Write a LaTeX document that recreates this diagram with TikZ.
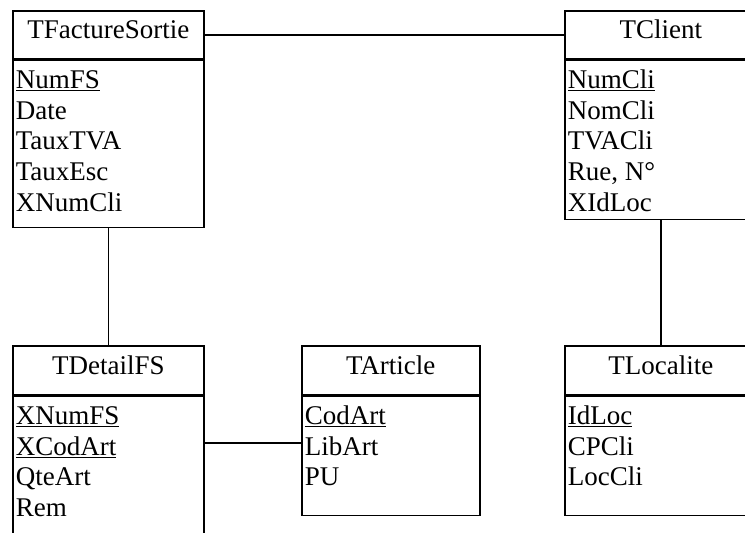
\documentclass[tikz,border=0pt]{standalone}
\usepackage{fontspec}
\setmainfont{Liberation Serif}
% primary-key field: text with a thick rule underneath
\newcommand\pk[1]{\leavevmode\setbox0\hbox{#1}\rlap{\rule[-3pt]{\wd0}{1.6pt}}\box0}
% field list of a table body: #1 height, #2 width, #3 lines separated by \\
\newcommand\fields[3]{\parbox[t][#1][t]{#2}{\fontsize{27}{30.7}\selectfont
  \raggedright\leftskip=3pt\rule{0pt}{28pt}#3}}
\begin{document}
\begin{tikzpicture}[x=1pt,y=-1pt,
  tbl/.style={draw, line width=1.6pt, inner sep=0pt,
    font=\fontsize{27}{30.7}\selectfont},
  title/.style={tbl, anchor=north west, text height=18pt, text depth=10pt},
  body/.style={tbl, anchor=north},
  link/.style={line width=1.5pt}]
\useasboundingbox[fill=white] (0,0) rectangle (745,533);

% TFactureSortie
\node[title, minimum width=191pt, minimum height=48pt] (fs) at (12,10) {TFactureSortie};
\node[body] (fsb) at (fs.south)
  {\fields{167pt}{191pt}{\pk{NumFS}\\Date\\TauxTVA\\TauxEsc\\XNumCli}};

% TClient
\node[title, minimum width=192pt, minimum height=48pt] (cl) at (564,10) {TClient};
\node[body] (clb) at (cl.south)
  {\fields{159pt}{192pt}{\pk{NumCli}\\NomCli\\TVACli\\Rue, N°\\XIdLoc}};

% TDetailFS
\node[title, minimum width=191pt, minimum height=49pt] (df) at (12,345) {TDetailFS};
\node[body] (dfb) at (df.south)
  {\fields{200pt}{191pt}{\pk{XNumFS}\\\pk{XCodArt}\\QteArt\\Rem}};

% TArticle
\node[title, minimum width=178pt, minimum height=49pt] (ar) at (301,345) {TArticle};
\node[body] (arb) at (ar.south)
  {\fields{119pt}{178pt}{\pk{CodArt}\\LibArt\\PU}};

% TLocalite
\node[title, minimum width=192pt, minimum height=49pt] (lo) at (564,345) {TLocalite};
\node[body] (lob) at (lo.south)
  {\fields{119pt}{192pt}{\pk{IdLoc}\\CPCli\\LocCli}};

% relations
\draw[link] (fs.east) -- (cl.west);
\draw[link] (fsb.south) -- (df.north);
\draw[link] (clb.south) -- (lo.north);
\coordinate (j) at (0,443);
\draw[link] (dfb.east |- j) -- (arb.west |- j);
\end{tikzpicture}
\end{document}
